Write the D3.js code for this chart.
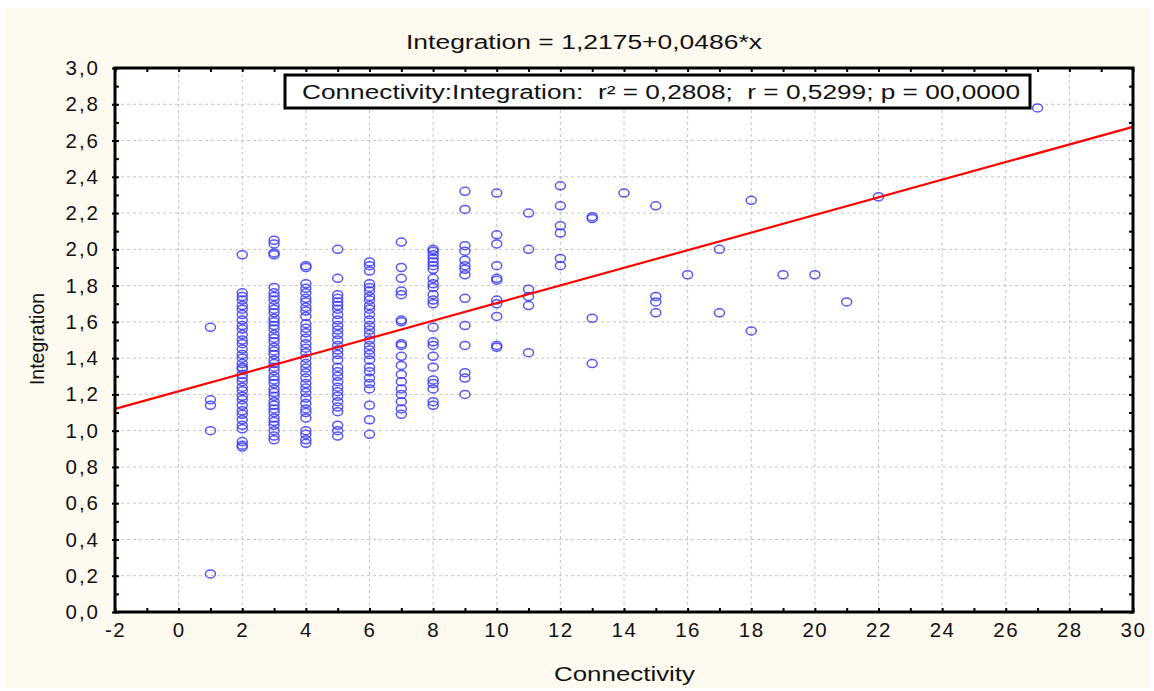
<!DOCTYPE html>
<html>
<head>
<meta charset="utf-8">
<script src="https://cdn.jsdelivr.net/npm/d3@7"></script>
<style>
  body { margin: 0; background: #ffffff; }
  text { font-family: "Liberation Sans", Arial, sans-serif; fill: #111; }
</style>
</head>
<body>
<div id="chart"></div>
<script>
// Connectivity values (x) and the Integration values read at each of them (y)
const connectivity = [1, 2, 3, 4, 5, 6, 7, 8, 9, 10, 11, 12, 13, 14, 15, 16, 17, 18, 19, 20, 21, 22, 27];
const integration = [
  [1.57, 1.17, 1.14, 1.00, 0.21],
  [1.97, 1.76, 1.74, 1.72, 1.69, 1.67, 1.64, 1.61, 1.58, 1.56, 1.53, 1.50, 1.48, 1.45, 1.42, 1.40, 1.37, 1.35,
   1.34, 1.31, 1.29, 1.27, 1.24, 1.22, 1.19, 1.17, 1.14, 1.11, 1.09, 1.06, 1.03, 1.01, 0.94, 0.92, 0.91],
  [2.05, 2.03, 1.98, 1.97, 1.79, 1.76, 1.74, 1.72, 1.69, 1.67, 1.65, 1.62, 1.60, 1.58, 1.56, 1.53, 1.51, 1.49,
   1.46, 1.44, 1.42, 1.39, 1.37, 1.35, 1.33, 1.30, 1.28, 1.26, 1.23, 1.21, 1.19, 1.16, 1.14, 1.12, 1.10, 1.07,
   1.05, 1.03, 1.00, 0.97, 0.95],
  [1.91, 1.90, 1.81, 1.785, 1.76, 1.73, 1.71, 1.68, 1.66, 1.63, 1.59, 1.565, 1.54, 1.51, 1.48, 1.455, 1.43, 1.40,
   1.37, 1.345, 1.32, 1.29, 1.26, 1.235, 1.21, 1.18, 1.15, 1.12, 1.10, 1.07, 1.00, 0.98, 0.95, 0.93],
  [2.00, 1.84, 1.75, 1.73, 1.71, 1.69, 1.67, 1.64, 1.61, 1.58, 1.555, 1.53, 1.50, 1.47, 1.445, 1.42, 1.39, 1.35,
   1.325, 1.30, 1.27, 1.24, 1.215, 1.19, 1.16, 1.13, 1.105, 1.03, 1.00, 0.97],
  [1.93, 1.91, 1.88, 1.81, 1.79, 1.77, 1.74, 1.72, 1.69, 1.67, 1.64, 1.61, 1.58, 1.555, 1.53, 1.50, 1.47, 1.445,
   1.42, 1.39, 1.35, 1.325, 1.29, 1.26, 1.23, 1.14, 1.06, 0.98],
  [2.04, 1.90, 1.84, 1.77, 1.75, 1.61, 1.60, 1.48, 1.47, 1.41, 1.36, 1.31, 1.27, 1.23, 1.20, 1.16, 1.12, 1.09],
  [2.00, 1.99, 1.97, 1.95, 1.93, 1.91, 1.89, 1.84, 1.81, 1.79, 1.75, 1.72, 1.70, 1.57, 1.49, 1.47, 1.41, 1.35,
   1.28, 1.26, 1.23, 1.16, 1.14],
  [2.32, 2.22, 2.02, 1.99, 1.94, 1.91, 1.89, 1.86, 1.73, 1.58, 1.47, 1.32, 1.29, 1.20],
  [2.31, 2.08, 2.03, 1.91, 1.84, 1.83, 1.72, 1.70, 1.63, 1.47, 1.46],
  [2.20, 2.00, 1.78, 1.74, 1.69, 1.43],
  [2.35, 2.24, 2.13, 2.09, 1.95, 1.91],
  [2.18, 2.17, 1.62, 1.37],
  [2.31],
  [2.24, 1.74, 1.71, 1.65],
  [1.86],
  [2.00, 1.65],
  [2.27, 1.55],
  [1.86],
  [1.86],
  [1.71],
  [2.29],
  [2.78]
];

// regression Integration = a + b*x
const intercept = 1.2175;
const slope = 0.0486;

const xTicks = [-2, 0, 2, 4, 6, 8, 10, 12, 14, 16, 18, 20, 22, 24, 26, 28, 30];
const xMinor = d3.range(-2, 31, 1);
const yTicks = [0, 0.2, 0.4, 0.6, 0.8, 1.0, 1.2, 1.4, 1.6, 1.8, 2.0, 2.2, 2.4, 2.6, 2.8, 3.0];
const yMinor = d3.range(0, 31, 1).map(d => d / 10);

const titleText = "Integration = 1,2175+0,0486*x";
const legendText = "Connectivity:Integration:  r\u00B2 = 0,2808;  r = 0,5299; p = 00,0000";

// flatten to points
const points = [];
connectivity.forEach((c, i) => integration[i].forEach(v => points.push({ x: c, y: v })));

const W = 1154, H = 691;
const margin = { top: 68, right: 21, bottom: 79, left: 115 };
const width = W - margin.left - margin.right;
const height = H - margin.top - margin.bottom;

const svg = d3.select("#chart").append("svg")
    .attr("width", W)
    .attr("height", H);

// cream panel
svg.append("rect")
    .attr("x", 5).attr("y", 8)
    .attr("width", 1145).attr("height", 680)
    .attr("fill", "#fffaf0");

const g = svg.append("g")
    .attr("transform", `translate(${margin.left},${margin.top})`);

const xScale = d3.scaleLinear().domain([-2, 30]).range([0, width]);
const yScale = d3.scaleLinear().domain([0, 3]).range([height, 0]);

const fmt = d => d.toFixed(0);
const fmtY = d => d.toFixed(1).replace(".", ",");

g.append("rect")
    .attr("width", width).attr("height", height)
    .attr("fill", "#ffffff");

// grid
g.append("g").selectAll("line")
    .data(xTicks.slice(1, -1))
    .enter().append("line")
    .attr("x1", d => xScale(d)).attr("x2", d => xScale(d))
    .attr("y1", 0).attr("y2", height)
    .attr("stroke", "#c4c4c4").attr("stroke-dasharray", "3,3");

g.append("g").selectAll("line")
    .data(yTicks.slice(1, -1))
    .enter().append("line")
    .attr("y1", d => yScale(d)).attr("y2", d => yScale(d))
    .attr("x1", 0).attr("x2", width)
    .attr("stroke", "#c4c4c4").attr("stroke-dasharray", "3,3");

// points
g.append("g").selectAll("ellipse")
    .data(points)
    .enter().append("ellipse")
    .attr("cx", d => xScale(d.x))
    .attr("cy", d => yScale(d.y))
    .attr("rx", 5)
    .attr("ry", 4)
    .attr("fill", "none")
    .attr("stroke", "#3a3af2")
    .attr("stroke-opacity", 0.85)
    .attr("stroke-width", 1.5);

// regression line
const line = d3.line()
    .x(d => xScale(d))
    .y(d => yScale(intercept + slope * d));

g.append("path")
    .datum([-2, 30])
    .attr("fill", "none")
    .attr("stroke", "#ff0000")
    .attr("stroke-width", 2.2)
    .attr("d", line);

// inward minor ticks on all four sides
function inward(axis) {
    return axis.tickSize(-4).tickFormat("");
}
const tickStyle = sel => {
    sel.select(".domain").remove();
    sel.selectAll("line").attr("stroke", "#000").attr("stroke-width", 2);
};
g.append("g").attr("transform", `translate(0,${height})`)
    .call(inward(d3.axisBottom(xScale).tickValues(xMinor))).call(tickStyle);
g.append("g")
    .call(inward(d3.axisTop(xScale).tickValues(xMinor))).call(tickStyle);
g.append("g")
    .call(inward(d3.axisLeft(yScale).tickValues(yMinor))).call(tickStyle);
g.append("g").attr("transform", `translate(${width},0)`)
    .call(inward(d3.axisRight(yScale).tickValues(yMinor))).call(tickStyle);

// short outer ticks on the left at labelled values
g.append("g")
    .call(d3.axisLeft(yScale).tickValues(yTicks).tickSize(3).tickFormat(""))
    .call(tickStyle);

// labels
const xAxis = g.append("g").attr("transform", `translate(0,${height})`)
    .call(d3.axisBottom(xScale).tickValues(xTicks).tickSize(0).tickPadding(10).tickFormat(fmt));
xAxis.select(".domain").remove();
xAxis.selectAll("text")
    .attr("font-size", 20.5).attr("letter-spacing", 1.5).attr("fill", "#111");

const yAxis = g.append("g")
    .call(d3.axisLeft(yScale).tickValues(yTicks).tickSize(0).tickPadding(15).tickFormat(fmtY));
yAxis.select(".domain").remove();
yAxis.selectAll("text")
    .attr("font-size", 20.5).attr("letter-spacing", 2).attr("fill", "#111");

// frame
g.append("rect")
    .attr("width", width).attr("height", height)
    .attr("fill", "none")
    .attr("stroke", "#000")
    .attr("stroke-width", 3);

// title
svg.append("text")
    .attr("x", 406).attr("y", 49)
    .attr("font-size", 19.5)
    .attr("textLength", 356)
    .attr("lengthAdjust", "spacingAndGlyphs")
    .text(titleText);

// legend box
svg.append("rect")
    .attr("x", 285).attr("y", 75)
    .attr("width", 745).attr("height", 33)
    .attr("fill", "#ffffff")
    .attr("stroke", "#000")
    .attr("stroke-width", 3);

svg.append("text")
    .attr("x", 302).attr("y", 99)
    .attr("font-size", 19.5)
    .attr("textLength", 718)
    .attr("lengthAdjust", "spacingAndGlyphs")
    .style("white-space", "pre")
    .text(legendText);

// axis titles
svg.append("text")
    .attr("x", 554).attr("y", 681)
    .attr("font-size", 20)
    .attr("textLength", 141)
    .attr("lengthAdjust", "spacingAndGlyphs")
    .text("Connectivity");

svg.append("text")
    .attr("transform", "translate(44,339) rotate(-90)")
    .attr("text-anchor", "middle")
    .attr("font-size", 19.5)
    .text("Integration");
</script>
</body>
</html>
